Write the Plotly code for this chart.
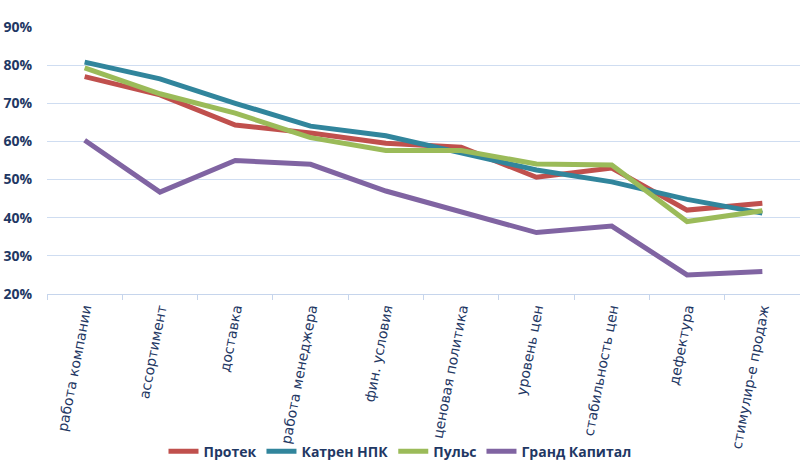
import plotly.graph_objects as go

categories = ["работа компании", "ассортимент", "доставка", "работа менеджера",
              "фин. условия", "ценовая политика", "уровень цен", "стабильность цен",
              "дефектура", "стимулир-е продаж"]
protek = [0.770, 0.722, 0.643, 0.622, 0.595, 0.585, 0.506, 0.530, 0.420, 0.438]
katren = [0.808, 0.764, 0.700, 0.640, 0.615, 0.570, 0.525, 0.494, 0.448, 0.412]
puls = [0.793, 0.725, 0.674, 0.610, 0.576, 0.576, 0.541, 0.538, 0.390, 0.418]
grand = [0.603, 0.467, 0.550, 0.540, 0.470, 0.415, 0.361, 0.378, 0.250, 0.259]
series = [("Протек", protek, "#C0504D"), ("Катрен НПК", katren, "#31859C"),
          ("Пульс", puls, "#9BBB59"), ("Гранд Капитал", grand, "#8064A2")]
y_ticks = [0.2, 0.3, 0.4, 0.5, 0.6, 0.7, 0.8, 0.9]

fig = go.Figure()
for name, vals, col in series:
    fig.add_trace(go.Scatter(x=categories, y=vals, name=name, mode="lines",
                             line=dict(color=col, width=5)))

txt = "#1F3864"
fig.update_layout(
    width=800, height=476,
    margin=dict(l=47, r=0, t=27, b=182, autoexpand=False),
    paper_bgcolor="white", plot_bgcolor="white",
    showlegend=True,
    legend=dict(orientation="h", xref="container", x=0.5, xanchor="center",
                y=-0.59, yanchor="middle", bgcolor="rgba(0,0,0,0)",
                font=dict(family="Open Sans", size=14, color=txt, weight="bold"),
                itemwidth=30, tracegroupgap=0),
    xaxis=dict(type="category", tickangle=-79, tickson="boundaries",
               ticks="outside", ticklen=5, tickcolor="#C6D5EC",
               showline=True, linecolor="#C6D5EC", linewidth=1,
               showgrid=False, range=[-0.5, 9.5], automargin=False,
               tickfont=dict(family="DejaVu Sans", size=14, color=txt)),
    yaxis=dict(range=[0.2, 0.9], tickvals=y_ticks, tickformat=".0%",
               showgrid=True, gridcolor="#CFDDF1", gridwidth=1, zeroline=False,
               automargin=False,
               tickfont=dict(family="Open Sans", size=14, color=txt, weight="bold"),
               ticklabelstandoff=14),
)
fig.write_html("out.html", config={"displayModeBar": False},
               post_script="document.body.style.margin='0';document.body.style.overflow='hidden';")
